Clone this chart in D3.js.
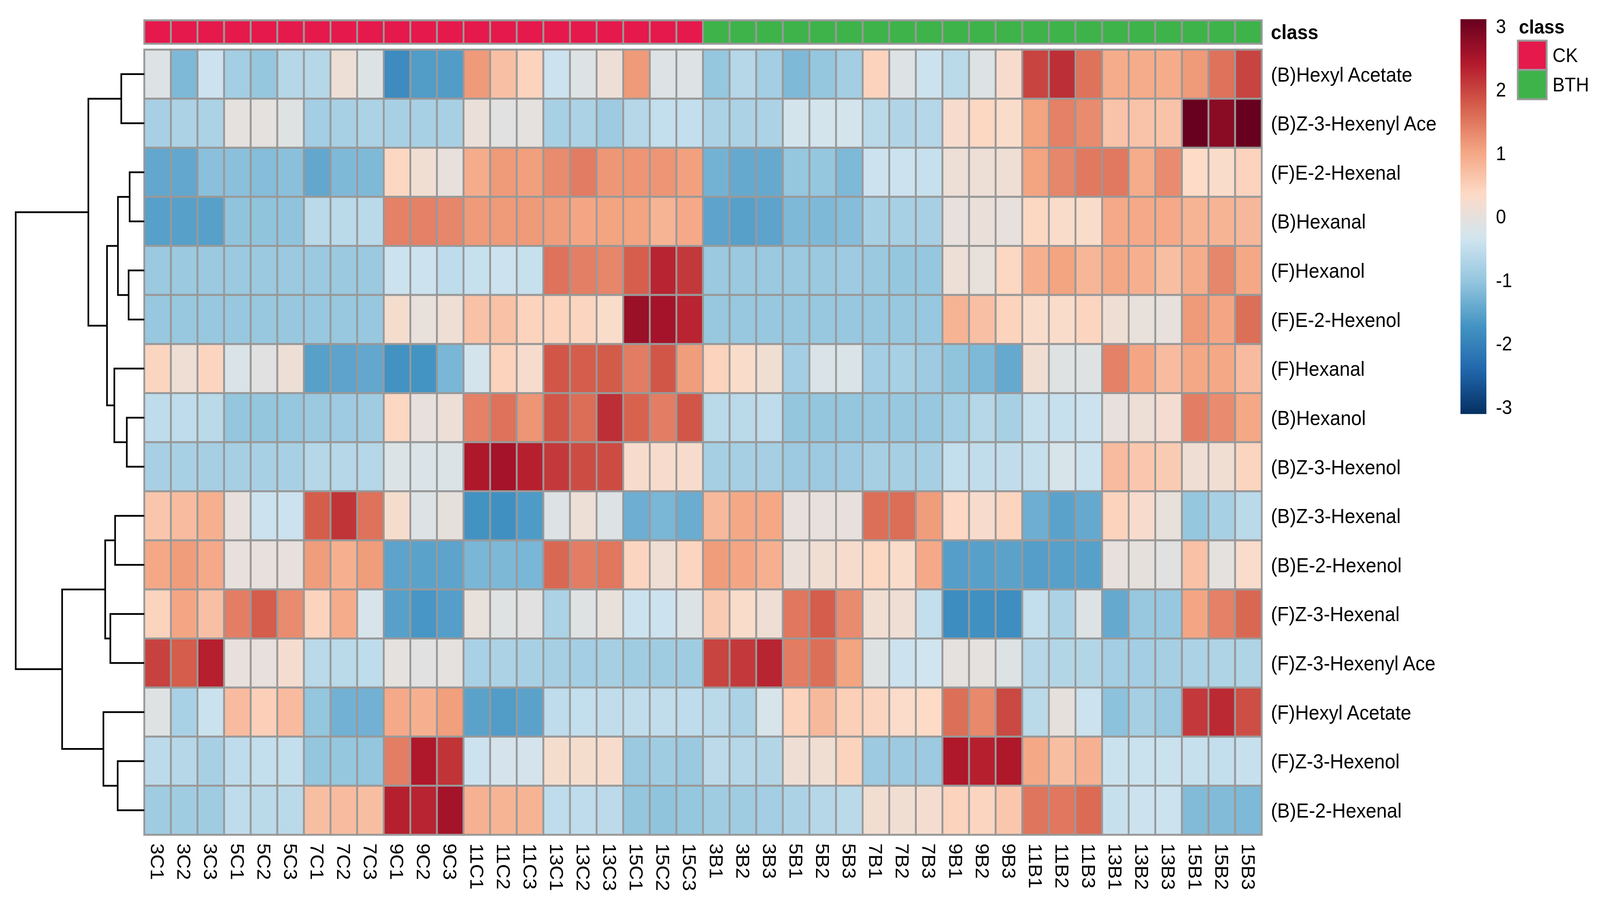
<!DOCTYPE html>
<html>
<head>
<meta charset="utf-8">
<script src="https://cdn.jsdelivr.net/npm/d3@7"></script>
<style>
  html, body { margin: 0; padding: 0; width: 100%; height: 100%; overflow: hidden; background: #fff; }
  svg { display: block; }
  text { font-family: "Liberation Sans", Arial, sans-serif; fill: #000; }
</style>
</head>
<body>
<svg id="chart" viewBox="0 0 4380 2327" preserveAspectRatio="none" width="100%" height="100%"></svg>
<script>
// sample columns, in plotted order
const groups = ["3C", "5C", "7C", "9C", "11C", "13C", "15C", "3B", "5B", "7B", "9B", "11B", "13B", "15B"];
const samples = groups.flatMap(g => [g + "1", g + "2", g + "3"]);
const sampleClass = samples.map(s => s.includes("C") ? "CK" : "BTH");

// compounds, in dendrogram order
const compounds = [
  "(B)Hexyl Acetate", "(B)Z-3-Hexenyl Ace", "(F)E-2-Hexenal", "(B)Hexanal",
  "(F)Hexanol", "(F)E-2-Hexenol", "(F)Hexanal", "(B)Hexanol",
  "(B)Z-3-Hexenol", "(B)Z-3-Hexenal", "(B)E-2-Hexenol", "(F)Z-3-Hexenal",
  "(F)Z-3-Hexenyl Ace", "(F)Hexyl Acetate", "(F)Z-3-Hexenol", "(B)E-2-Hexenal"
];

// row-scaled values (z-score), one row per compound, 42 samples
const values = [
  [-0.15,-1.2,-0.4,-0.85,-1.0,-0.65,-0.65,0.1,-0.15,-1.85,-1.6,-1.6,1.15,0.7,0.45,-0.4,-0.15,0.1,1.15,-0.15,-0.15,
   -1.0,-0.65,-0.85,-1.2,-1.0,-0.85,0.45,-0.15,-0.4,-0.6,-0.15,0.25,2.0,2.2,1.55,0.95,0.95,0.95,1.15,1.55,2.0],
  [-0.8,-0.75,-0.75,-0.05,-0.05,-0.12,-0.85,-0.8,-0.75,-0.8,-0.8,-0.8,0.05,-0.1,-0.05,-0.8,-0.75,-0.9,-0.65,-0.5,-0.5,
   -0.75,-0.75,-0.75,-0.3,-0.3,-0.3,-0.6,-0.7,-0.65,0.25,0.4,0.3,1.05,1.4,1.3,0.65,0.65,0.65,3.1,2.8,3.1],
  [-1.45,-1.45,-1.1,-1.1,-1.15,-1.1,-1.45,-1.2,-1.2,0.4,0.15,0.0,0.95,1.15,1.1,1.3,1.45,1.18,1.2,1.2,1.08,
   -1.3,-1.42,-1.42,-1.0,-1.0,-1.2,-0.4,-0.4,-0.45,0.1,0.1,0.12,1.05,1.35,1.48,1.48,0.95,1.3,0.35,0.3,0.45],
  [-1.55,-1.55,-1.55,-1.05,-1.05,-1.05,-0.6,-0.6,-0.6,1.4,1.4,1.35,1.15,1.15,1.15,1.12,1.02,1.05,1.05,0.85,0.98,
   -1.5,-1.55,-1.5,-1.2,-1.2,-1.15,-0.8,-0.8,-0.8,0.0,0.05,0.0,0.4,0.3,0.3,0.98,0.98,0.98,0.85,0.85,0.8],
  [-0.95,-0.95,-0.95,-0.95,-0.95,-0.95,-0.95,-0.95,-0.95,-0.4,-0.4,-0.55,-0.45,-0.4,-0.45,1.55,1.42,1.35,1.75,2.3,2.1,
   -0.95,-0.95,-0.95,-0.95,-0.95,-0.9,-0.95,-1.0,-1.0,0.1,0.02,0.4,0.9,1.05,0.82,1.0,0.9,0.72,0.95,1.35,1.0],
  [-0.98,-0.98,-0.98,-0.98,-0.98,-0.98,-0.98,-0.98,-0.98,0.22,0.02,0.12,0.68,0.68,0.45,0.45,0.42,0.3,2.65,2.55,2.3,
   -0.98,-0.98,-0.98,-0.98,-0.98,-0.98,-0.98,-0.98,-0.98,0.85,0.7,0.45,0.3,0.3,0.42,0.12,0.02,0.0,1.15,1.02,1.58],
  [0.42,0.12,0.42,-0.2,-0.1,0.1,-1.55,-1.5,-1.45,-1.75,-1.72,-1.25,-0.3,0.45,0.25,1.82,1.76,1.78,1.45,1.82,1.12,
   0.45,0.3,0.15,-0.85,-0.2,-0.2,-0.85,-0.8,-0.9,-1.05,-1.2,-1.42,0.15,-0.12,-0.12,1.4,1.02,0.75,1.0,1.0,0.75],
  [-0.55,-0.55,-0.6,-1.02,-1.02,-1.0,-0.95,-0.9,-0.88,0.4,0.0,0.1,1.4,1.55,1.2,1.82,1.6,2.2,1.7,1.43,1.82,
   -0.6,-0.6,-0.55,-1.02,-1.02,-1.02,-0.98,-0.98,-0.98,-0.85,-0.65,-0.8,-0.45,-0.45,-0.4,0.0,0.1,0.2,1.43,1.3,1.0],
  [-0.8,-0.8,-0.82,-0.82,-0.8,-0.8,-0.65,-0.65,-0.65,-0.18,-0.2,-0.18,2.45,2.55,2.35,2.1,1.92,1.92,0.25,0.25,0.25,
   -0.82,-0.82,-0.82,-0.92,-0.92,-0.9,-0.82,-0.82,-0.82,-0.5,-0.52,-0.52,-0.48,-0.25,-0.4,0.75,0.6,0.55,0.12,0.15,0.42],
  [0.62,0.75,0.9,0.0,-0.4,-0.4,1.76,2.15,1.55,0.22,-0.15,-0.02,-1.75,-1.78,-1.62,-0.15,0.1,-0.15,-1.35,-1.25,-1.38,
   0.78,1.0,1.0,0.0,0.0,0.0,1.58,1.6,1.12,0.38,0.25,0.42,-1.35,-1.52,-1.42,0.45,0.25,0.02,-1.0,-0.8,-0.6],
  [1.0,1.12,0.98,0.0,0.0,0.0,1.12,0.9,1.12,-1.5,-1.52,-1.5,-1.25,-1.22,-1.25,1.65,1.43,1.5,0.42,0.12,0.42,
   1.12,1.02,0.9,0.05,0.15,0.25,0.4,0.3,0.98,-1.58,-1.55,-1.52,-1.58,-1.55,-1.55,0.0,-0.02,-0.1,0.68,-0.05,0.28],
  [0.45,1.02,0.7,1.43,1.76,1.3,0.45,0.95,-0.25,-1.55,-1.68,-1.58,0.02,-0.12,-0.1,-0.75,-0.12,0.02,-0.4,-0.4,-0.15,
   0.55,0.3,0.12,1.5,1.76,1.3,0.15,0.12,-0.5,-1.82,-1.78,-1.8,-0.5,-0.75,-0.15,-1.42,-0.98,-0.98,1.02,1.4,1.65],
  [2.02,1.76,2.35,0.0,0.0,0.2,-0.6,-0.6,-0.55,-0.05,-0.1,-0.05,-0.78,-0.75,-0.8,-0.82,-0.85,-0.82,-0.88,-0.88,-0.88,
   2.0,2.1,2.3,1.45,1.58,1.05,-0.12,-0.4,-0.35,-0.05,-0.05,-0.15,-0.65,-0.68,-0.68,-0.85,-0.85,-0.82,-0.75,-0.72,-0.72],
  [-0.12,-0.78,-0.42,0.75,0.5,0.75,-1.02,-1.32,-1.32,0.98,0.9,1.1,-1.52,-1.6,-1.52,-0.55,-0.5,-0.52,-0.52,-0.52,-0.55,
   -0.6,-0.75,-0.25,0.45,0.78,0.5,0.42,0.32,0.35,1.58,1.32,1.95,-0.6,-0.02,-0.4,-1.08,-0.82,-0.95,2.1,2.25,1.9],
  [-0.58,-0.65,-0.8,-0.55,-0.5,-0.5,-1.02,-1.0,-1.02,1.43,2.45,2.15,-0.4,-0.28,-0.28,0.22,0.22,0.25,-0.95,-0.88,-0.95,
   -0.58,-0.65,-0.68,0.12,0.15,0.45,-0.92,-0.92,-0.92,2.45,2.35,2.45,1.0,0.72,0.88,-0.42,-0.42,-0.42,-0.45,-0.5,-0.45],
  [-0.88,-0.88,-0.88,-0.55,-0.6,-0.6,0.72,0.75,0.72,2.35,2.3,2.55,0.88,0.85,0.85,-0.55,-0.55,-0.58,-1.02,-1.05,-1.0,
   -0.88,-0.88,-0.85,-0.75,-0.65,-0.6,0.18,0.15,0.2,0.45,0.42,0.6,1.52,1.5,1.62,-0.45,-0.4,-0.4,-1.18,-1.18,-1.2]
];

// row dendrogram, hclust style: negative = leaf (1-based row), positive = earlier merge
const merges = [
  [-1, -2, 1.79], [-3, -4, 1.14], [-5, -6, 1.22], [2, 3, 2.05],
  [-8, -9, 1.36], [-7, 5, 2.33], [4, 6, 2.90], [1, 7, 4.35],
  [-10, -11, 2.27], [-12, -13, 2.64], [9, 10, 3.04], [-15, -16, 2.07],
  [-14, 12, 3.18], [11, 13, 6.39], [8, 14, 10.0]
];

const legendTicks = [3, 2, 1, 0, -1, -2, -3];
const classNames = ["CK", "BTH"];
const classColors = ["#E5194B", "#3DB34A"];
const rdbu = ["#053061", "#2166AC", "#4393C3", "#92C5DE", "#D1E5F0",
              "#FDDBC7", "#F4A582", "#D6604D", "#B2182B", "#67001F"];
const zMax = 3.11;

const svg = d3.select("#chart");
const mapLeft = 395, mapRight = 3454, mapTop = 127, mapBottom = 2137;
const border = "#999999";

const x = d3.scaleBand().domain(samples).range([mapLeft, mapRight]);
const y = d3.scaleBand().domain(compounds).range([mapTop, mapBottom]);
const color = d3.scaleLinear()
  .domain(rdbu.map((c, i) => -zMax + i * 2 * zMax / (rdbu.length - 1)))
  .range(rdbu)
  .interpolate(d3.interpolateRgb);
const classColor = d3.scaleOrdinal().domain(classNames).range(classColors);

// heatmap cells
const cells = [];
values.forEach((row, i) => row.forEach((v, j) => cells.push({r: compounds[i], c: samples[j], v})));
svg.append("g").selectAll("rect").data(cells).enter().append("rect")
  .attr("x", d => x(d.c))
  .attr("y", d => y(d.r))
  .attr("width", x.bandwidth())
  .attr("height", y.bandwidth())
  .attr("fill", d => color(d.v))
  .attr("stroke", border)
  .attr("stroke-width", 5);

// class annotation bar
const barTop = 52, barH = 60;
svg.append("g").selectAll("rect").data(samples).enter().append("rect")
  .attr("x", d => x(d))
  .attr("y", barTop)
  .attr("width", x.bandwidth())
  .attr("height", barH)
  .attr("fill", (d, i) => classColor(sampleClass[i]))
  .attr("stroke", border)
  .attr("stroke-width", 5);
svg.append("text")
  .attr("x", mapRight + 25).attr("y", barTop + barH / 2)
  .attr("dy", "0.35em")
  .attr("font-size", 52).attr("font-weight", "bold")
  .text("class");

// row labels
svg.append("g").selectAll("text").data(compounds).enter().append("text")
  .attr("x", mapRight + 25)
  .attr("y", d => y(d) + y.bandwidth() / 2)
  .attr("dy", "0.36em")
  .attr("font-size", 52)
  .text(d => d);

// column labels, rotated to read downward
svg.append("g").selectAll("text").data(samples).enter().append("text")
  .attr("transform", d => `translate(${x(d) + x.bandwidth() / 2}, ${mapBottom + 22}) rotate(90)`)
  .attr("dy", "0.36em")
  .attr("font-size", 51)
  .text(d => d);

// dendrogram
const hx = d3.scaleLinear().domain([0, 10]).range([mapLeft, 43]);
const nodePos = [];
function pos(id) {
  if (id < 0) return {x: hx(0), y: y(compounds[-id - 1]) + y.bandwidth() / 2};
  return nodePos[id - 1];
}
const dendro = svg.append("g").attr("fill", "none").attr("stroke", "#000").attr("stroke-width", 4.5);
merges.forEach((m, k) => {
  const a = pos(m[0]), b = pos(m[1]);
  const nx = hx(m[2]);
  nodePos[k] = {x: nx, y: (a.y + b.y) / 2};
  dendro.append("path")
    .attr("d", `M${a.x},${a.y}H${nx}V${b.y}H${b.x}`);
});

// colour key
const keyX = 3998, keyW = 71;
const ky = d3.scaleLinear().domain([-3, 3]).range([1042, 67]);
const defs = svg.append("defs");
const grad = defs.append("linearGradient").attr("id", "key")
  .attr("x1", 0).attr("y1", 1).attr("x2", 0).attr("y2", 0);
d3.range(0, 1.0001, 0.02).forEach(t => {
  grad.append("stop").attr("offset", t).attr("stop-color", color(-zMax + t * 2 * zMax));
});
svg.append("rect")
  .attr("x", keyX).attr("y", ky(zMax))
  .attr("width", keyW).attr("height", ky(-zMax) - ky(zMax))
  .attr("fill", "url(#key)");
svg.append("g").selectAll("text").data(legendTicks).enter().append("text")
  .attr("x", keyX + keyW + 26)
  .attr("y", d => ky(d))
  .attr("dy", "0.36em")
  .attr("font-size", 50)
  .text(d => d < 0 ? "-" + Math.abs(d) : d);

// class legend
const lgX = 4155, lgY = 104, boxW = 79, boxH = 75;
svg.append("text")
  .attr("x", lgX + 3).attr("y", 86)
  .attr("font-size", 50).attr("font-weight", "bold")
  .text("class");
const lg = svg.append("g").selectAll("g").data(classNames).enter().append("g");
lg.append("rect")
  .attr("x", lgX)
  .attr("y", (d, i) => lgY + i * boxH)
  .attr("width", boxW).attr("height", boxH)
  .attr("fill", d => classColor(d))
  .attr("stroke", border).attr("stroke-width", 5);
lg.append("text")
  .attr("x", lgX + boxW + 16)
  .attr("y", (d, i) => lgY + i * boxH + boxH / 2)
  .attr("dy", "0.36em")
  .attr("font-size", 50)
  .text(d => d);
</script>
</body>
</html>
